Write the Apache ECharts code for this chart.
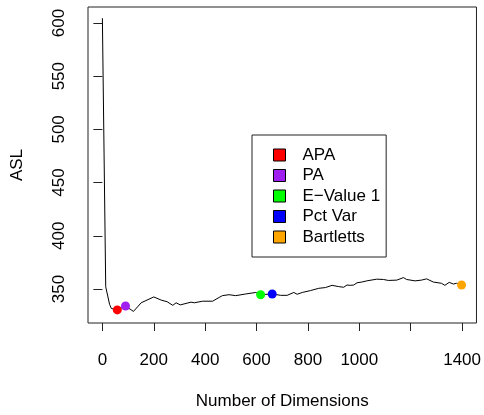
<!DOCTYPE html>
<html>
<head>
<meta charset="utf-8">
<script src="https://cdn.jsdelivr.net/npm/echarts@6/dist/echarts.min.js"></script>
<style>
  html, body { margin: 0; padding: 0; background: #fff; }
  #main { width: 484px; height: 415px; }
</style>
</head>
<body>
<div id="main"></div>
<script>
// ASL curve (dimensions, ASL)
var dims = [0, 13, 18, 28, 35, 58, 90, 121, 151, 200, 229, 252, 274, 287, 303, 345, 358, 390, 429, 455, 467,
            493, 519, 558, 597, 616, 661, 694, 719, 745, 758, 778, 810, 842, 868, 894, 920, 939, 952, 965,
            978, 991, 1010, 1029, 1068, 1094, 1113, 1146, 1172, 1184, 1217, 1242, 1262, 1288, 1320, 1333,
            1350, 1366, 1378, 1398];
var asl = [604.5, 352, 350.6, 335.5, 331.6, 330.3, 334, 328.9, 337, 342.5, 339.5, 338, 334.6, 337, 335, 337.6,
           337, 338.5, 338.5, 342.1, 343.7, 344.6, 343.7, 345.3, 346.7, 344.6, 345.3, 344, 344, 346.7, 345,
           346.7, 348.5, 350.6, 351.3, 353.4, 352.2, 351.6, 353.7, 353.4, 353.7, 355.8, 356.5, 357.6, 359.2,
           358.9, 358, 358.3, 360.7, 358.9, 357.6, 358.3, 359.5, 356.5, 355.3, 353.4, 356.2, 354.6, 355.3, 353.7];

// selected dimension for each method
var methods = ['APA', 'PA', 'E\u2212Value 1', 'Pct Var', 'Bartletts'];
var methodDims = [58, 90, 616, 661, 1398];
var methodAsl = [330.3, 334, 344.6, 345.3, 353.7];
var methodColors = ['#ff0000', '#a020f0', '#00ff00', '#0000ff', '#ffa500'];

var xTicks = [0, 200, 400, 600, 800, 1000, 1200, 1400];
var xLabels = [0, 200, 400, 600, 800, 1000, 1400];
var yTicks = [350, 400, 450, 500, 550, 600];

var font = "'Liberation Sans', Arial, Helvetica, sans-serif";

var chart = echarts.init(document.getElementById('main'));

var series = [{
  type: 'line',
  data: dims.map(function (d, i) { return [d, asl[i]]; }),
  showSymbol: false,
  symbol: 'none',
  lineStyle: { color: '#000', width: 1 },
  z: 2
}];
methods.forEach(function (m, i) {
  series.push({
    name: m,
    type: 'scatter',
    data: [[methodDims[i], methodAsl[i]]],
    symbolSize: 9,
    itemStyle: { color: methodColors[i], opacity: 1 },
    z: 3
  });
});

chart.setOption({
  animation: false,
  textStyle: { fontFamily: font, color: '#000' },
  grid: {
    left: 88, right: 6, top: 7, bottom: 81,
    show: true, borderColor: '#222', borderWidth: 1, backgroundColor: 'transparent'
  },
  xAxis: {
    type: 'value',
    min: -56, max: 1456,
    name: 'Number of Dimensions',
    nameLocation: 'middle',
    nameGap: 70,
    nameTextStyle: { fontSize: 17, color: '#000', fontFamily: font },
    axisLine: { show: false },
    axisTick: { show: true, length: 8, lineStyle: { color: '#222' }, customValues: xTicks },
    axisLabel: {
      fontSize: 17, color: '#000', margin: 29, fontFamily: font, customValues: xLabels,
      formatter: function (v) { return String(v); }
    },
    splitLine: { show: false }
  },
  yAxis: {
    type: 'value',
    min: 318, max: 615,
    name: 'ASL',
    nameLocation: 'middle',
    nameRotate: 90,
    nameGap: 62,
    nameTextStyle: { fontSize: 17, color: '#000', fontFamily: font },
    axisLine: { show: false },
    axisTick: { show: true, length: 9, lineStyle: { color: '#222' }, customValues: yTicks },
    axisLabel: { fontSize: 17, color: '#000', margin: 20, rotate: 90, fontFamily: font, customValues: yTicks },
    splitLine: { show: false }
  },
  legend: {
    data: methods,
    orient: 'vertical',
    left: 252, top: 135,
    padding: [11.5, 6, 11.5, 21],
    itemWidth: 12, itemHeight: 12,
    itemGap: 3.5,
    icon: 'rect',
    borderColor: '#222', borderWidth: 1,
    borderRadius: 0,
    backgroundColor: '#fff',
    itemStyle: { borderColor: '#000', borderWidth: 1, opacity: 1 },
    textStyle: { fontSize: 17, color: '#000', fontFamily: font, lineHeight: 17, padding: [0, 0, 0, 12] },
    selectedMode: false
  },
  series: series
});
</script>
</body>
</html>
